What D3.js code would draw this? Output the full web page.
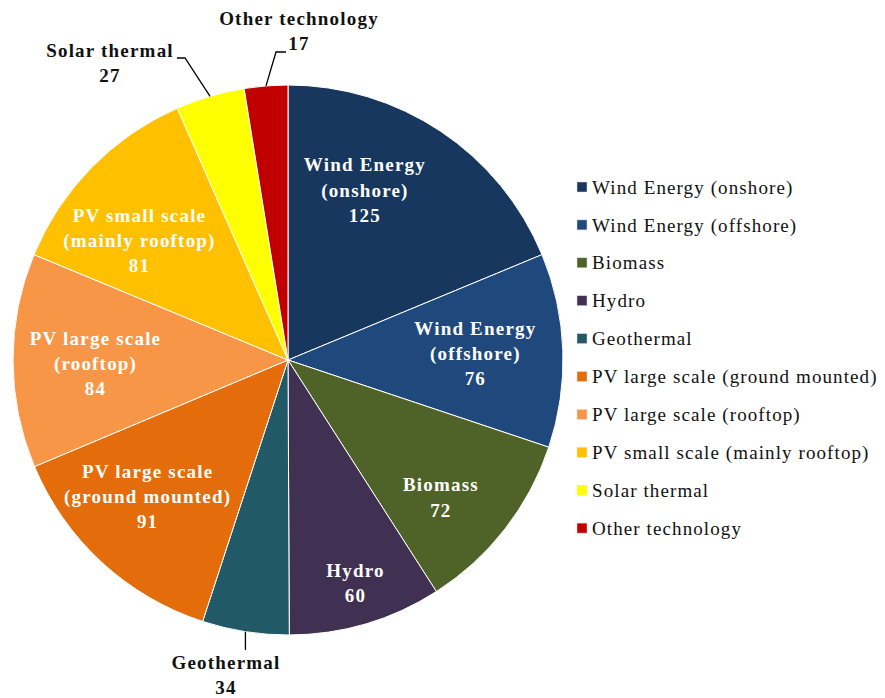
<!DOCTYPE html>
<html>
<head>
<meta charset="utf-8">
<script src="https://cdn.jsdelivr.net/npm/d3@7"></script>
<style>
  body { margin: 0; background: #fff; }
  svg text { font-family: "Liberation Serif", "Times New Roman", serif; }
</style>
</head>
<body>
<svg id="chart" width="885" height="698"></svg>
<script>
"use strict";

const categories = [
	"Wind Energy (onshore)", "Wind Energy (offshore)", "Biomass", "Hydro", "Geothermal",
	"PV large scale (ground mounted)", "PV large scale (rooftop)", "PV small scale (mainly rooftop)",
	"Solar thermal", "Other technology"
];
const values = [125, 76, 72, 60, 34, 91, 84, 81, 27, 17];
const labelLines = [
	["Wind Energy", "(onshore)"], ["Wind Energy", "(offshore)"], ["Biomass"], ["Hydro"], ["Geothermal"],
	["PV large scale", "(ground mounted)"], ["PV large scale", "(rooftop)"], ["PV small scale", "(mainly rooftop)"],
	["Solar thermal"], ["Other technology"]
];
const colors = ["#17375E", "#1F497D", "#4F6228", "#403152", "#215967",
	"#E46C0A", "#F79646", "#FFC000", "#FFFF00", "#C00000"];
const outside = ["Geothermal", "Solar thermal", "Other technology"];

const svg = d3.select('#chart');
const cx = 288, cy = 360, r = 275;
const lh = 25.2;

const pie = d3.pie().sort(null).value((d) => d.value);
const data = categories.map((c, i) => ({ name: c, value: values[i], lines: labelLines[i], color: colors[i] }));
const arcs = pie(data);
const arc = d3.arc().innerRadius(0).outerRadius(r);
const labelArc = d3.arc().innerRadius(r * 0.7).outerRadius(r * 0.7);
const outerArc = d3.arc().innerRadius(r).outerRadius(r);

const g = svg.append('g').attr('transform', `translate(${cx},${cy})`);
g.selectAll('path.slice')
	.data(arcs)
	.enter().append('path')
	.attr('class', 'slice')
	.attr('d', arc)
	.attr('fill', (d) => d.data.color)
	.attr('stroke', '#fff')
	.attr('stroke-width', 1);

// small nudges so labels land where the original puts them
const nudge = {
	"Wind Energy (onshore)": [-30, -10],
	"Wind Energy (offshore)": [-5, 0],
	"Biomass": [1, 19],
	"Hydro": [13, 38],
	"PV large scale (ground mounted)": [-10, -5],
	"PV large scale (rooftop)": [0, 3],
	"PV small scale (mainly rooftop)": [-11, 15]
};

const boldText = (sel) => sel
	.attr('text-anchor', 'middle')
	.attr('font-weight', 'bold')
	.attr('font-size', 19)
	.attr('letter-spacing', 1.2);

const inside = arcs.filter((d) => !outside.includes(d.data.name));
inside.forEach((d) => {
	const [x, y] = labelArc.centroid(d);
	const n = nudge[d.data.name] || [0, 0];
	const lines = d.data.lines.concat([String(d.data.value)]);
	const y0 = y + n[1] - (lines.length - 1) * lh / 2;
	const t = g.append('text').call(boldText).attr('fill', '#fff');
	lines.forEach((ln, i) => {
		t.append('tspan')
			.attr('x', x + n[0])
			.attr('y', y0 + i * lh)
			.attr('dy', '0.35em')
			.text(ln);
	});
});

// outside labels with leader lines (elbows and text anchor relative to centre)
const leader = {
	"Geothermal": { pts: [[0, 290]], text: [-62, 309] },
	"Solar thermal": { pts: [[-103, -302], [-111, -302]], text: [-178, -303] },
	"Other technology": { pts: [[-12, -308], [-2, -308]], text: [11, -335] }
};
arcs.filter((d) => outside.includes(d.data.name)).forEach((d) => {
	const p0 = outerArc.centroid(d);
	const L = leader[d.data.name];
	const pts = [p0].concat(L.pts.map((p) => d.data.name === "Geothermal" ? [p0[0], p[1]] : p));
	g.append('path')
		.attr('d', d3.line()(pts))
		.attr('fill', 'none')
		.attr('stroke', '#000')
		.attr('stroke-width', 1.3);
	const t = g.append('text').call(boldText).attr('fill', '#111');
	d.data.lines.concat([String(d.data.value)]).forEach((ln, i) => {
		t.append('tspan')
			.attr('x', L.text[0])
			.attr('y', L.text[1] + i * lh)
			.text(ln);
	});
});

// legend
const legend = svg.append('g').attr('transform', 'translate(577,187)');
const row = legend.selectAll('g.item')
	.data(data)
	.enter().append('g')
	.attr('class', 'item')
	.attr('transform', (d, i) => `translate(0,${i * 37.9})`);
row.append('rect')
	.attr('x', 0).attr('y', -5)
	.attr('width', 10).attr('height', 10)
	.attr('fill', (d) => d.color)
	.attr('stroke', '#ddd')
	.attr('stroke-width', 0.5);
row.append('text')
	.attr('x', 15)
	.attr('dy', '0.35em')
	.attr('font-size', 19)
	.attr('letter-spacing', 1.1)
	.attr('fill', '#111')
	.text((d) => d.name);
</script>
</body>
</html>
